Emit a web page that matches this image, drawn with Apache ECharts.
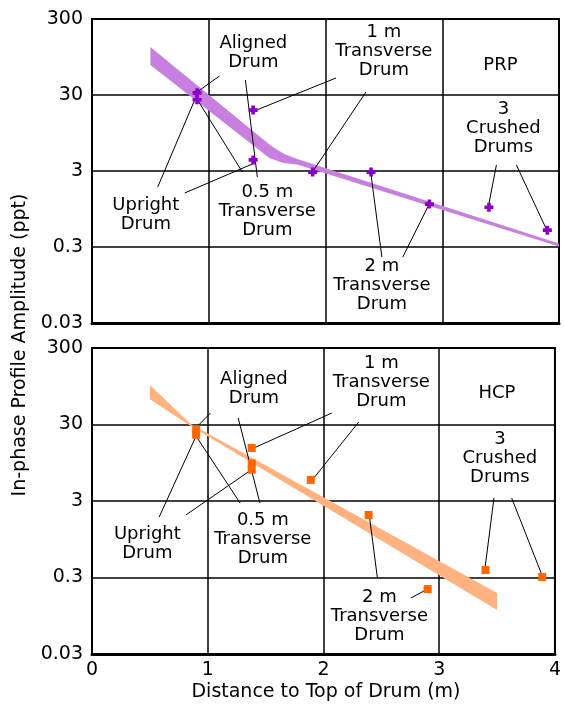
<!DOCTYPE html>
<html><head><meta charset="utf-8">
<script src="https://cdn.jsdelivr.net/npm/echarts@6/dist/echarts.min.js"></script>
<style>html,body{margin:0;padding:0;background:#fff}#c{width:564px;height:708px}</style>
</head><body><div id="c"></div>
<script>
// ---------- tick labels ----------
const xTicks = ['0', '1', '2', '3', '4'];
const yTicks = ['0.03', '0.3', '3', '30', '300'];

// ---------- PRP panel (top) ----------
const prpPointX = [0.9, 0.9, 1.38, 1.38, 1.89, 2.39, 2.89, 3.4, 3.9];
const prpPointY = [32, 26, 19, 4.2, 2.9, 2.9, 1.1, 1.0, 0.5];
const prpBandUpperX = [0.5, 1.536, 1.647, 1.758, 4.0];
const prpBandUpperY = [128.5, 6.4, 5.02, 4.31, 0.334];
const prpBandLowerX = [0.5, 1.519, 1.638, 1.758, 4.0];
const prpBandLowerY = [74.5, 4.45, 3.82, 3.65, 0.305];
const prpLabelText = ['Aligned\nDrum', '1 m\nTransverse\nDrum', 'PRP', '3\nCrushed\nDrums',
  'Upright\nDrum', '0.5 m\nTransverse\nDrum', '2 m\nTransverse\nDrum'];
const prpLabelX = [1.382, 2.5, 3.498, 3.524, 0.461, 1.502, 2.483];
const prpLabelY = [107, 114, 74.5, 11.0, 0.791, 0.893, 0.0948];
const prpLeaders = [
  [1.092, 53.3, 0.913, 33.9], [1.314, 47.2, 1.416, 2.50], [0.563, 1.85, 0.887, 27.4],
  [0.794, 1.54, 1.374, 3.71], [0.904, 25.8, 1.288, 2.91], [2.090, 50.2, 1.408, 19.0],
  [2.346, 32.8, 1.894, 3.0], [2.483, 0.221, 2.389, 2.74], [2.662, 0.221, 2.884, 1.07],
  [3.464, 3.60, 3.396, 1.04], [3.635, 3.60, 3.891, 0.518]
];

// ---------- HCP panel (bottom) ----------
const hcpPointX = [0.9, 0.9, 1.38, 1.38, 1.38, 1.89, 2.39, 2.9, 3.4, 3.89];
const hcpPointY = [26, 22, 14.8, 9.3, 7.7, 5.65, 1.97, 0.212, 0.376, 0.305];
const hcpBandUpperX = [0.5, 0.853, 3.5];
const hcpBandUpperY = [98.5, 30.5, 0.188];
const hcpBandLowerX = [0.5, 0.853, 3.5];
const hcpBandLowerY = [64, 28.7, 0.113];
const hcpLabelText = ['Aligned\nDrum', '1 m\nTransverse\nDrum', 'HCP', '3\nCrushed\nDrums',
  'Upright\nDrum', '0.5 m\nTransverse\nDrum', '2 m\nTransverse\nDrum'];
const hcpLabelX = [1.399, 2.5, 3.498, 3.524, 0.478, 1.476, 2.483];
const hcpLabelY = [87, 108, 77.5, 10.9, 0.822, 0.955, 0.094];
const hcpLeaders = [
  [1.024, 42.4, 0.904, 27.8], [1.263, 36.5, 1.451, 2.82], [0.580, 1.85, 0.896, 20.6],
  [0.811, 1.97, 1.374, 7.62], [1.280, 2.82, 0.904, 20.6], [2.073, 42.4, 1.399, 14.8],
  [2.304, 32.3, 1.903, 5.65], [2.466, 0.295, 2.398, 1.85], [2.756, 0.162, 2.884, 0.206],
  [3.473, 3.28, 3.396, 0.40], [3.626, 3.28, 3.891, 0.314]
];

const FONT = 'DejaVu Sans';

function yLabel(v) {
  let best = yTicks[0], err = Infinity;
  yTicks.forEach(t => { const e = Math.abs(Math.log10(+t) - Math.log10(v)); if (e < err) { err = e; best = t; } });
  return best;
}

function bandSeries(idx, ux, uy, lx, ly, color) {
  return {
    type: 'custom', xAxisIndex: idx, yAxisIndex: idx, silent: true, z: 2,
    data: [[ux[0], uy[0]]],
    renderItem: (params, api) => {
      const pts = ux.map((x, i) => api.coord([x, uy[i]]));
      for (let i = lx.length - 1; i >= 0; i--) pts.push(api.coord([lx[i], ly[i]]));
      return { type: 'polygon', shape: { points: pts }, style: { fill: color } };
    }
  };
}
function leaderSeries(idx, leaders) {
  return {
    type: 'custom', xAxisIndex: idx, yAxisIndex: idx, silent: true, z: 3,
    data: leaders,
    renderItem: (params, api) => {
      const a = api.coord([api.value(0), api.value(1)]);
      const b = api.coord([api.value(2), api.value(3)]);
      return { type: 'line', shape: { x1: a[0], y1: a[1], x2: b[0], y2: b[1] },
        style: { stroke: '#000', lineWidth: 1 } };
    }
  };
}
function labelSeries(idx, texts, xs, ys) {
  return {
    type: 'custom', xAxisIndex: idx, yAxisIndex: idx, silent: true, z: 5,
    data: xs.map((x, i) => [x, ys[i]]),
    renderItem: (params, api) => {
      const p = api.coord([api.value(0), api.value(1)]);
      return { type: 'text', x: p[0], y: p[1],
        style: { text: texts[params.dataIndex], font: '18px ' + FONT, fill: '#000',
          align: 'center', verticalAlign: 'middle', textAlign: 'center', textVerticalAlign: 'middle',
          lineHeight: 19 } };
    }
  };
}
function pointSeries(idx, xs, ys, symbol, size, color) {
  return {
    type: 'scatter', xAxisIndex: idx, yAxisIndex: idx, z: 6, silent: true,
    symbol: symbol, symbolSize: size, itemStyle: { color: color, opacity: 1 },
    data: xs.map((x, i) => [x, ys[i]])
  };
}

const gridBase = { left: 92, width: 467, show: true, borderColor: '#000', borderWidth: 2, backgroundColor: '#fff' };
function xAxisCfg(idx, showLabels) {
  return {
    type: 'value', gridIndex: idx, min: 0, max: 4, interval: 1,
    axisLine: { show: true, lineStyle: { color: '#000', width: 3 } },
    axisTick: { show: false },
    axisLabel: { show: showLabels, color: '#000', fontSize: 19, fontFamily: FONT, margin: 7,
      formatter: v => xTicks[Math.round(v)] },
    splitLine: { show: true, lineStyle: { color: '#000', width: 1.5 } }
  };
}
function yAxisCfg(idx) {
  return {
    type: 'log', logBase: 10, gridIndex: idx, min: 0.03, max: 300, interval: 1,
    axisLine: { show: true, lineStyle: { color: '#000', width: 2 } },
    axisTick: { show: false },
    axisLabel: { color: '#000', fontSize: 19, fontFamily: FONT, margin: 9, formatter: yLabel },
    splitLine: { show: true, lineStyle: { color: '#000', width: 1.5 } }
  };
}

const plus = 'path://M3,0h4v3h3v4h-3v3h-4v-3h-3v-4h3z';

const chart = echarts.init(document.getElementById('c'), null, { renderer: 'canvas' });
chart.setOption({
  animation: false,
  backgroundColor: '#fff',
  textStyle: { fontFamily: FONT },
  grid: [
    Object.assign({ top: 19, height: 304 }, gridBase),
    Object.assign({ top: 348, height: 306 }, gridBase)
  ],
  xAxis: [xAxisCfg(0, false), xAxisCfg(1, true)],
  yAxis: [yAxisCfg(0), yAxisCfg(1)],
  graphic: [
    { type: 'text', x: 20, y: 345, rotation: Math.PI / 2,
      style: { text: 'In-phase Profile Amplitude (ppt)', font: '19px ' + FONT, fill: '#000',
        align: 'center', verticalAlign: 'middle', textAlign: 'center', textVerticalAlign: 'middle' } },
    { type: 'text', x: 326, y: 692,
      style: { text: 'Distance to Top of Drum (m)', font: '19px ' + FONT, fill: '#000',
        align: 'center', verticalAlign: 'middle', textAlign: 'center', textVerticalAlign: 'middle' } }
  ],
  series: [
    bandSeries(0, prpBandUpperX, prpBandUpperY, prpBandLowerX, prpBandLowerY, '#c77fe0'),
    leaderSeries(0, prpLeaders),
    labelSeries(0, prpLabelText, prpLabelX, prpLabelY),
    pointSeries(0, prpPointX, prpPointY, plus, 9, '#8a00c8'),
    bandSeries(1, hcpBandUpperX, hcpBandUpperY, hcpBandLowerX, hcpBandLowerY, '#ffb27f'),
    leaderSeries(1, hcpLeaders),
    labelSeries(1, hcpLabelText, hcpLabelX, hcpLabelY),
    pointSeries(1, hcpPointX, hcpPointY, 'rect', 8, '#ff6600')
  ]
});
</script></body></html>
